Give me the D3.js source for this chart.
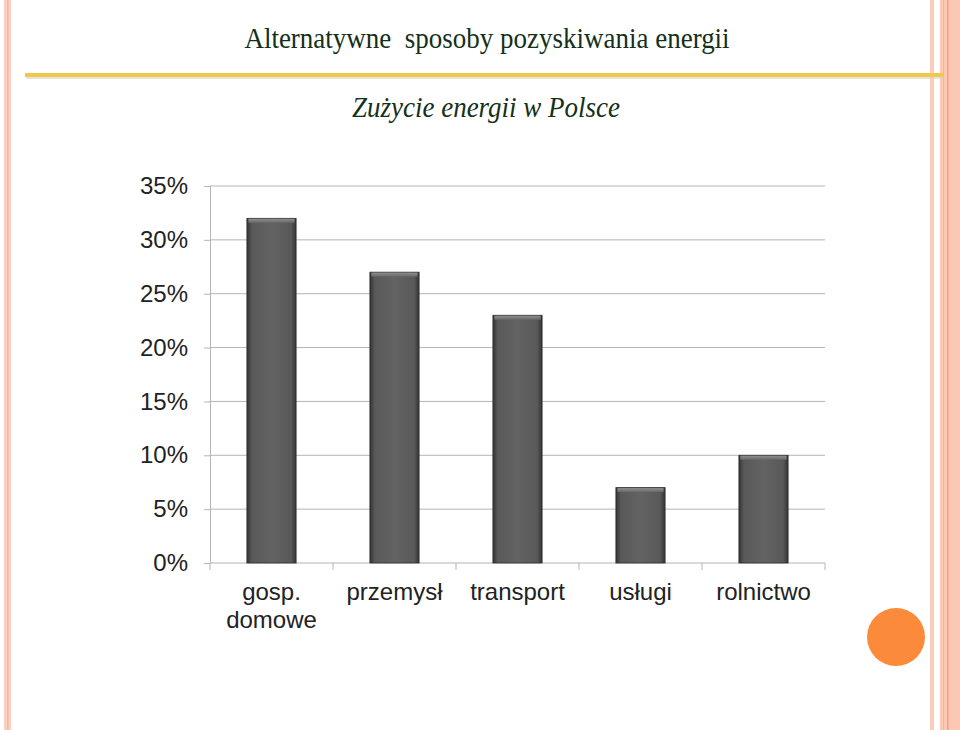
<!DOCTYPE html>
<html><head><meta charset="utf-8">
<script src="https://cdn.jsdelivr.net/npm/d3@7/dist/d3.min.js"></script>
<style>html,body{margin:0;padding:0;background:#fff;}svg{display:block;}</style>
</head><body>
<svg id="c" width="960" height="730"></svg>
<script>
const categories = [["gosp.", "domowe"], ["przemysł"], ["transport"], ["usługi"], ["rolnictwo"]];
const values = [32, 27, 23, 7, 10];
const tickValues = [0, 5, 10, 15, 20, 25, 30, 35];

(function(){
const svg = d3.select("#c");
const defs = svg.append("defs");

// page decorations
svg.append("rect").attr("x",4).attr("y",0).attr("width",7).attr("height",730).attr("fill","#fbd0c0");
svg.append("rect").attr("x",7).attr("y",0).attr("width",1.5).attr("height",730).attr("fill","#f4b8a4");
svg.append("rect").attr("x",930).attr("y",0).attr("width",4).attr("height",730).attr("fill","#fbcdbb");
svg.append("rect").attr("x",940).attr("y",0).attr("width",20).attr("height",730).attr("fill","#fcc8b4");
svg.append("rect").attr("x",947).attr("y",0).attr("width",1.5).attr("height",730).attr("fill","#f0a484");
svg.append("rect").attr("x",943).attr("y",0).attr("width",1).attr("height",730).attr("fill","#f5b69e");

// yellow rule
svg.append("rect").attr("x",26).attr("y",76).attr("width",918).attr("height",3).attr("fill","#d8d0c0").attr("opacity",0.6);
svg.append("rect").attr("x",25).attr("y",73).attr("width",919).attr("height",4).attr("fill","#efc94c");

svg.append("text").attr("transform","translate(487,48) scale(1,1.12)").attr("text-anchor","middle")
  .attr("font-family","Liberation Serif, serif").attr("font-size",27).attr("fill","#14301a")
  .attr("xml:space","preserve").text("Alternatywne  sposoby pozyskiwania energii");
svg.append("text").attr("transform","translate(486,117) scale(1,1.12)").attr("text-anchor","middle")
  .attr("font-family","Liberation Serif, serif").attr("font-style","italic").attr("font-size",27).attr("fill","#14301a")
  .text("Zużycie energii w Polsce");

svg.append("circle").attr("cx",896).attr("cy",637).attr("r",29).attr("fill","#fb8a3a");

// chart
const pl = 210, pr = 825, pt = 186, pb = 563;
const x = d3.scaleBand().domain(categories.map(d=>d.join(" "))).range([pl,pr]).paddingInner(0.6).paddingOuter(0.3);
const y = d3.scaleLinear().domain([0,35]).range([pb,pt]);

const g = svg.append("g");
g.append("g").selectAll("line").data(tickValues.filter(t=>t>0)).join("line")
  .attr("x1",pl).attr("x2",pr).attr("y1",d=>y(d)).attr("y2",d=>y(d))
  .attr("stroke","#b5b5b5").attr("stroke-width",1);

const yAxis = g.append("g").attr("transform",`translate(${pl},0)`)
  .call(d3.axisLeft(y).tickValues(tickValues).tickFormat(d=>d+"%").tickSize(6).tickPadding(16));
yAxis.select(".domain").attr("stroke","#b5b5b5");
yAxis.selectAll(".tick line").attr("stroke","#b5b5b5");
yAxis.selectAll("text").attr("font-family","Liberation Sans, Arial, sans-serif").attr("font-size",24).attr("fill","#222");

const xa = g.append("g").attr("transform",`translate(0,${pb})`);
xa.append("line").attr("x1",pl).attr("x2",pr).attr("stroke","#b5b5b5");
const bounds = d3.range(categories.length+1).map(i=>pl + i*(pr-pl)/categories.length);
xa.selectAll("line.tk").data(bounds).join("line").attr("class","tk")
  .attr("x1",d=>d).attr("x2",d=>d).attr("y1",0).attr("y2",7).attr("stroke","#b5b5b5");

const grad = defs.append("linearGradient").attr("id","bg").attr("x1","0").attr("x2","1").attr("y1","0").attr("y2","0");
grad.append("stop").attr("offset","0").attr("stop-color","#333");
grad.append("stop").attr("offset","0.1").attr("stop-color","#595959");
grad.append("stop").attr("offset","0.5").attr("stop-color","#636363");
grad.append("stop").attr("offset","0.9").attr("stop-color","#595959");
grad.append("stop").attr("offset","1").attr("stop-color","#333");
const tg = defs.append("linearGradient").attr("id","tg").attr("x1","0").attr("x2","0").attr("y1","0").attr("y2","1");
tg.append("stop").attr("offset","0").attr("stop-color","#8e8e8e");
tg.append("stop").attr("offset","1").attr("stop-color","#686868");

const bars = g.append("g").selectAll("g").data(values).join("g");
bars.append("rect")
  .attr("x",(d,i)=>x(categories[i].join(" ")))
  .attr("y",d=>y(d)).attr("width",x.bandwidth()).attr("height",d=>pb-y(d))
  .attr("fill","url(#bg)").attr("stroke","#2e2e2e").attr("stroke-width",0.8);
bars.append("rect")
  .attr("x",(d,i)=>x(categories[i].join(" "))+1.5)
  .attr("y",d=>y(d)+0.5).attr("width",x.bandwidth()-3).attr("height",4)
  .attr("fill","url(#tg)");

const lab = g.append("g").selectAll("text").data(categories).join("text")
  .attr("x",d=>x(d.join(" "))+x.bandwidth()/2).attr("y",600).attr("text-anchor","middle")
  .attr("font-family","Liberation Sans, Arial, sans-serif").attr("font-size",24).attr("fill","#222");
lab.each(function(d){
  const t = d3.select(this);
  d.forEach((s,i)=>t.append("tspan").attr("x",t.attr("x")).attr("dy",i?28:0).text(s));
});
})();
</script>
</body></html>
